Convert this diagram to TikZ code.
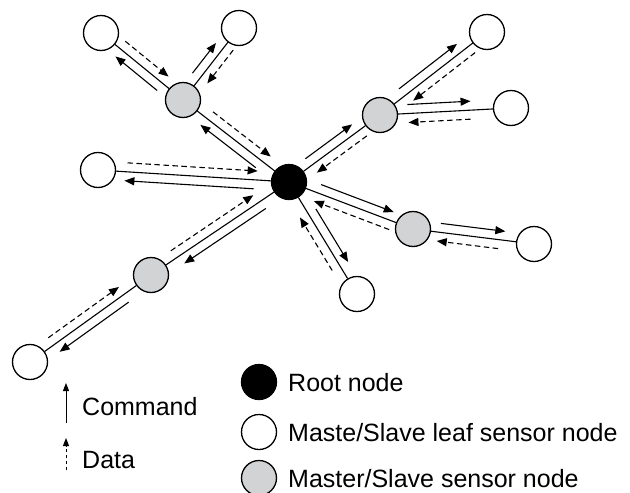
\documentclass[tikz,border=0pt]{standalone}
\usepackage{fontspec}
\setmainfont{Liberation Sans}
\usetikzlibrary{calc,arrows.meta}
\definecolor{nodegray}{RGB}{209,211,212}
\newcommand\lnk[6]{%
  \draw[cmd] ($(#1)!#3pt!(#2)!9pt!90:(#2)$) -- ($(#2)!#4pt!(#1)!9pt!-90:(#1)$);
  \draw[dat] ($(#2)!#5pt!(#1)!9pt!90:(#1)$) -- ($(#1)!#6pt!(#2)!9pt!-90:(#2)$);
}
\begin{document}
\begin{tikzpicture}[x=1pt,y=-1pt,
  nd/.style={circle,draw,line width=1.3pt,minimum size=35pt,inner sep=0pt},
  rootn/.style={nd,fill=black},
  grayn/.style={nd,fill=nodegray},
  leafn/.style={nd,fill=white},
  edge/.style={line width=1.1pt},
  cmd/.style={line width=1.1pt,-{Triangle[length=10pt,width=8pt]}},
  dat/.style={line width=1.1pt,dash pattern=on 5.5pt off 3.5pt,-{Triangle[length=10pt,width=8pt]}},
  lcmd/.style={line width=1pt,-{Triangle[length=8pt,width=6pt]}},
  ldat/.style={line width=1pt,dash pattern=on 3.5pt off 2.5pt,-{Triangle[length=8pt,width=6pt]}},
  lbl/.style={anchor=base west,inner sep=0pt,font=\fontsize{25}{30}\selectfont}]
\useasboundingbox (0,0) rectangle (630,493);
% nodes
\node[rootn] (root) at (289,182) {};
\node[grayn] (g1) at (183,100) {};
\node[grayn] (g2) at (380,115) {};
\node[grayn] (g3) at (413,229) {};
\node[grayn] (g4) at (151,275) {};
\node[leafn] (l1) at (101,33) {};
\node[leafn] (l2) at (239,28) {};
\node[leafn] (l3) at (98,170) {};
\node[leafn] (l4) at (487,32) {};
\node[leafn] (l5) at (511,108) {};
\node[leafn] (l6) at (534,244) {};
\node[leafn] (l7) at (357,294) {};
\node[leafn] (l8) at (30,362) {};
% edges
\foreach \a/\b in {root/g1,g1/l1,g1/l2,root/l3,root/g2,g2/l4,g2/l5,root/g3,g3/l6,root/l7,root/g4,g4/l8}
  \draw[edge] (\a) -- (\b);
% arrows: parent, child, solid start (from parent), solid tip (from child), dashed start (from child), dashed tip (from parent)
\lnk{root}{g1}{35}{29}{31}{30}
\lnk{g1}{l1}{26}{26}{24}{26}
\lnk{g1}{l2}{27}{26}{21}{28}
\lnk{root}{l3}{35}{27}{29}{32}
\lnk{root}{g2}{27}{28}{23}{28}
\lnk{g2}{l4}{31}{31}{22}{35}
\lnk{g2}{l5}{28}{40}{41}{28}
\lnk{root}{g3}{31}{24}{22}{30}
\lnk{g3}{l6}{27}{30}{35}{25}
\lnk{root}{l7}{37}{32}{33}{36}
\lnk{root}{g4}{34}{34}{30}{37}
\lnk{g4}{l8}{34}{30}{29}{33}
% legend
\coordinate (c0) at (66,423);
\coordinate (c1) at (66,383);
\draw[lcmd] (c0) -- (c1);
\node[lbl] (tc) at (82,415) {Command};
\coordinate (d0) at (66,470);
\coordinate (d1) at (66,438);
\draw[ldat] (d0) -- (d1);
\node[lbl] (td) at (82,468) {Data};
\node[rootn] (kr) at (259,382) {};
\node[lbl] (tr) at (288,391) {Root node};
\node[leafn] (kl) at (259,432) {};
\node[lbl] (tl) at (288,441) {Maste/Slave leaf sensor node};
\node[grayn] (kg) at (259,478) {};
\node[lbl] (tg) at (288,487) {Master/Slave sensor node};
\end{tikzpicture}
\end{document}
